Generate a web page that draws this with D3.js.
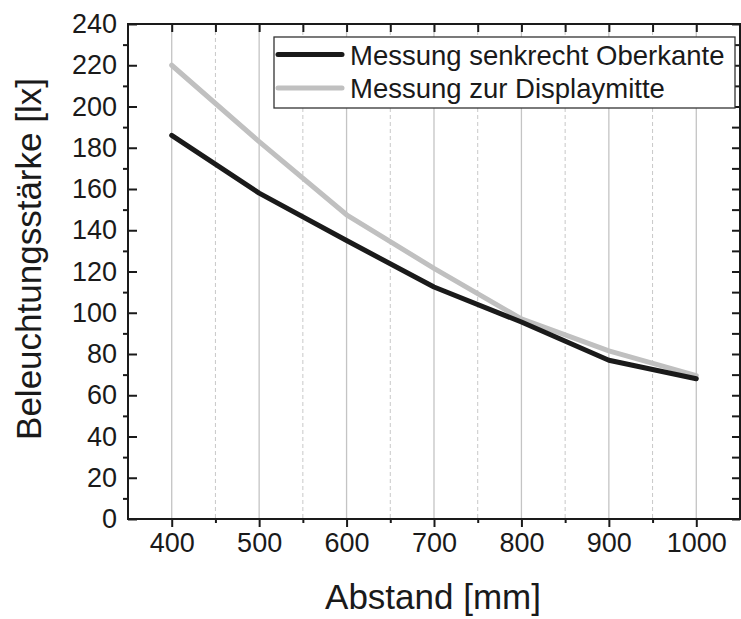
<!DOCTYPE html>
<html><head><meta charset="utf-8">
<script src="https://cdn.jsdelivr.net/npm/d3@7"></script>
<style>body{margin:0;background:#fff}svg{display:block;font-family:"Liberation Sans",Arial,Helvetica,sans-serif}</style>
</head><body><svg id="c" width="741" height="619"></svg>
<script>
const distances = [400, 500, 600, 700, 800, 900, 1000];
const seriesNames = ["Messung senkrecht Oberkante", "Messung zur Displaymitte"];
const valuesOberkante = [186, 158, 135, 112.5, 95.5, 77, 68];
const valuesMitte = [220, 183, 147.5, 121.5, 97, 81.5, 69.5];
const seriesColors = ["#1a1a1a", "#c0c0c0"];
const xTickValues = [400, 500, 600, 700, 800, 900, 1000];
const xMinorValues = [450, 550, 650, 750, 850, 950];
const yTickValues = [0, 20, 40, 60, 80, 100, 120, 140, 160, 180, 200, 220, 240];
const yMinorValues = [10, 30, 50, 70, 90, 110, 130, 150, 170, 190, 210, 230];

const svg = d3.select("#c");
const L = 128, R = 740, T = 24, B = 519;
const x = d3.scaleLinear().domain([350, 1050]).range([L, R]);
const y = d3.scaleLinear().domain([0, 240]).range([B, T]);

// grid lines
svg.append("g").selectAll("line").data(xTickValues).join("line")
  .attr("x1", d => x(d)).attr("x2", d => x(d)).attr("y1", T).attr("y2", B)
  .attr("stroke", "#c4c4c4").attr("stroke-width", 1.3);
svg.append("g").selectAll("line").data(xMinorValues).join("line")
  .attr("x1", d => x(d)).attr("x2", d => x(d)).attr("y1", T).attr("y2", B)
  .attr("stroke", "#c8c8c8").attr("stroke-width", 1).attr("stroke-dasharray", "4,3");

// lines
const line = d3.line().x((d, i) => x(distances[i])).y(d => y(d));
[valuesMitte, valuesOberkante].forEach((vals, k) => {
  const c = k === 0 ? seriesColors[1] : seriesColors[0];
  svg.append("path").datum(vals).attr("d", line)
    .attr("fill", "none").attr("stroke", c).attr("stroke-width", 5)
    .attr("stroke-linejoin", "round").attr("stroke-linecap", "round");
});

const fontSize = 27;
// bottom major
const xAxisB = svg.append("g").attr("transform", `translate(0,${B})`)
  .call(d3.axisBottom(x).tickValues(xTickValues).tickSize(8).tickPadding(6).tickFormat(d3.format("d")));
// bottom minor
svg.append("g").attr("transform", `translate(0,${B})`)
  .call(d3.axisBottom(x).tickValues(xMinorValues).tickSize(4).tickFormat(""));
// top ticks (inward)
svg.append("g").attr("transform", `translate(0,${T})`)
  .call(d3.axisBottom(x).tickValues(xTickValues.concat(xMinorValues)).tickSize(8).tickFormat(""));
// left major (inward)
const yAxisL = svg.append("g").attr("transform", `translate(${L},0)`)
  .call(d3.axisLeft(y).tickValues(yTickValues).tickSize(-9).tickPadding(11).tickFormat(d3.format("d")));
// left minor (outward)
svg.append("g").attr("transform", `translate(${L},0)`)
  .call(d3.axisLeft(y).tickValues(yMinorValues).tickSize(5).tickFormat(""));
// right ticks inward
svg.append("g").attr("transform", `translate(${R},0)`)
  .call(d3.axisRight(y).tickValues(yTickValues.concat(yMinorValues)).tickSize(-8).tickFormat(""));

svg.selectAll(".domain").remove();
svg.selectAll(".tick line").attr("stroke", "#1a1a1a").attr("stroke-width", 2);
svg.selectAll(".tick text").attr("font-size", fontSize).attr("fill", "#1a1a1a")
  .attr("font-family", "'Liberation Sans', Arial, sans-serif");
xAxisB.selectAll(".tick text").attr("dy", "0.72em");
yAxisL.selectAll(".tick text").attr("x", -11);

// frame
svg.append("rect").attr("x", L).attr("y", T).attr("width", R - L).attr("height", B - T)
  .attr("fill", "none").attr("stroke", "#1a1a1a").attr("stroke-width", 2);

// legend
const lg = svg.append("g");
lg.append("rect").attr("x", 274).attr("y", 37).attr("width", 461).attr("height", 71)
  .attr("fill", "#fff").attr("stroke", "#333").attr("stroke-width", 1.3);
seriesNames.forEach((name, i) => {
  const yy = 54.5 + i * 33.5;
  lg.append("line").attr("x1", 278).attr("x2", 342).attr("y1", yy).attr("y2", yy)
    .attr("stroke", seriesColors[i]).attr("stroke-width", 5).attr("stroke-linecap", "round");
  lg.append("text").attr("x", 350).attr("y", yy + 10).attr("font-size", 27.5)
    .attr("fill", "#1a1a1a").text(name);
});

// axis titles
svg.append("text").attr("x", 433).attr("y", 609).attr("text-anchor", "middle")
  .attr("font-size", 35).attr("fill", "#1a1a1a").text("Abstand [mm]");
svg.append("text").attr("transform", "translate(41,259) rotate(-90)").attr("text-anchor", "middle")
  .attr("font-size", 35).attr("fill", "#1a1a1a").text("Beleuchtungsstärke [lx]");
</script></body></html>
